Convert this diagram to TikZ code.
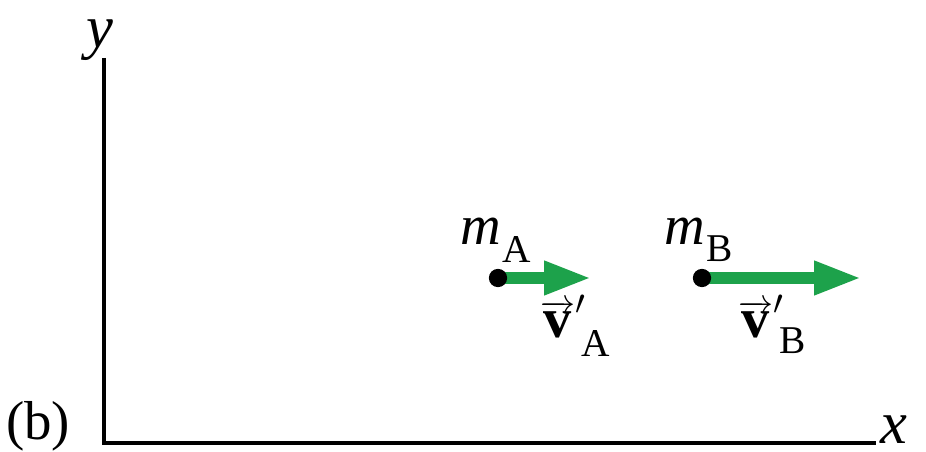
\documentclass[tikz,border=0pt]{standalone}
\usepackage{fontspec}
\setmainfont{Liberation Serif}
\usetikzlibrary{arrows.meta,positioning,backgrounds}
\definecolor{vgreen}{HTML}{1DA24B}
\newcommand{\sub}[2]{\raisebox{#1}{\fontsize{28}{28}\selectfont\upshape #2}}
\tikzset{
  axis/.style={draw=black,line width=2.6pt},
  vel/.style={-{Triangle[length=34pt,width=22pt]},draw=vgreen,fill=vgreen,line width=9pt},
  dot/.style={circle,fill=black,inner sep=0pt,minimum size=13pt},
  axislabel/.style={font=\fontsize{43}{43}\selectfont\itshape,inner sep=0pt},
  partlabel/.style={font=\fontsize{39}{39}\selectfont,inner sep=0pt},
  masslabel/.style={font=\fontsize{40}{40}\selectfont\itshape,inner sep=0pt,anchor=base west},
  vlabel/.style={font=\fontsize{40}{40}\selectfont,inner sep=0pt,anchor=base west},
}

\begin{document}
\begin{tikzpicture}[x=0.025cm,y=0.025cm]
\useasboundingbox (0,0) rectangle (926,452);

% axes ------------------------------------------------------------------------
\coordinate (O) at (104,9);
\coordinate (ytop) at (104,394);
\coordinate (xend) at (876,9);
\draw[axis] (ytop) -- (O) -- (xend);
\node[axislabel,anchor=base] (ylab) at (100,404) {y};
\node[axislabel,anchor=base west] (xlab) at (880,8) {x};
\node[partlabel,anchor=base west] (part) at (6,12) {(b)};

% mass A ------------------------------------------------------------------------
\node[dot] (dotA) at (498,174) {};
\coordinate (tipA) at (592,174);
\begin{scope}[on background layer]
\draw[vel] (dotA.center) -- (tipA);
\end{scope}
\node[masslabel] (mA) at (460,207) {m\kern1pt\sub{-12.5pt}{A}};
\node[vlabel] (vA) at (540,114) {$\overrightarrow{\textbf{v}}'$\kern-3pt\sub{-13.5pt}{A}};

% mass B ------------------------------------------------------------------------
\node[dot] (dotB) at (702,174) {};
\coordinate (tipB) at (862,174);
\begin{scope}[on background layer]
\draw[vel] (dotB.center) -- (tipB);
\end{scope}
\node[masslabel] (mB) at (664,207) {m\kern1pt\sub{-12pt}{B}};
\node[vlabel] (vB) at (738,114) {$\overrightarrow{\textbf{v}}'$\kern-3pt\sub{-11pt}{B}};

\end{tikzpicture}
\end{document}
